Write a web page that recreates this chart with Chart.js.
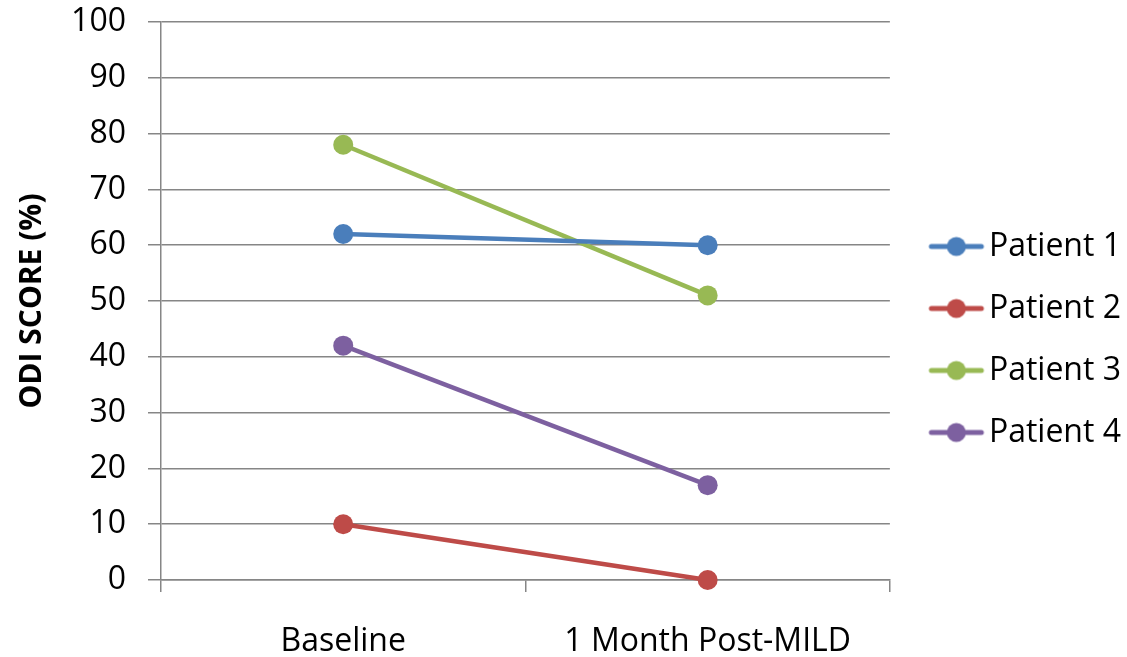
<!DOCTYPE html>
<html>
<head>
<meta charset="utf-8">
<script src="https://cdn.jsdelivr.net/npm/chart.js@4.4.1/dist/chart.umd.min.js"></script>
<style>
    html, body { margin: 0; padding: 0; background: #fff; }
    #wrap { width: 1127px; height: 657px; }
</style>
</head>
<body>
<div id="wrap"><canvas id="odiChart"></canvas></div>
<script>
const categories = ['Baseline', '1 Month Post-MILD'];
const patient1 = [62, 60];
const patient2 = [10, 0];
const patient3 = [78, 51];
const patient4 = [42, 17];
const seriesNames = ['Patient 1', 'Patient 2', 'Patient 3', 'Patient 4'];
const seriesColors = ['#4a7ebb', '#be4b48', '#98b954', '#7d60a0'];
const yMin = 0, yMax = 100, yStep = 10;

// legend marker: short line with a dot, like the Excel legend
// (drawn on the right part of a wider image so the dot sits where Excel puts it)
function makeMarker(color) {
    const c = document.createElement('canvas');
    c.width = 78;
    c.height = 24;
    const g = c.getContext('2d');
    g.strokeStyle = color;
    g.lineWidth = 5;
    g.lineCap = 'round';
    g.beginPath();
    g.moveTo(24, 12);
    g.lineTo(74, 12);
    g.stroke();
    g.fillStyle = color;
    g.beginPath();
    g.arc(49, 12, 9.5, 0, Math.PI * 2);
    g.fill();
    return c;
}
const markers = seriesColors.map(makeMarker);

const allSeries = [patient1, patient2, patient3, patient4];
const gridColor = '#868686';
const fontFamily = 'Open Sans';

document.addEventListener('DOMContentLoaded', () => {
    const ctx = document.getElementById('odiChart').getContext('2d');
    new Chart(ctx, {
        type: 'line',
        data: {
            labels: categories,
            datasets: allSeries.map((vals, i) => ({
                label: seriesNames[i],
                data: vals,
                borderColor: seriesColors[i],
                backgroundColor: seriesColors[i],
                borderWidth: 4.5,
                pointRadius: 10,
                pointHoverRadius: 10,
                pointBorderWidth: 0,
                tension: 0,
                clip: false
            }))
        },
        options: {
            responsive: true,
            maintainAspectRatio: false,
            animation: false,
            layout: {
                padding: { top: 22, left: 14, right: -4, bottom: 0 }
            },
            plugins: {
                tooltip: { enabled: false },
                legend: {
                    position: 'right',
                    labels: {
                        usePointStyle: true,
                        pointStyleWidth: 53,
                        padding: 30,
                        color: '#000',
                        font: { family: fontFamily, size: 32 },
                        generateLabels(chart) {
                            const items = Chart.defaults.plugins.legend.labels.generateLabels(chart);
                            items.forEach((it, i) => { it.pointStyle = markers[i]; });
                            return items;
                        }
                    }
                }
            },
            scales: {
                x: {
                    offset: true,
                    grid: {
                        offset: true,
                        drawOnChartArea: false,
                        drawTicks: true,
                        tickLength: 12,
                        color: gridColor,
                        lineWidth: 1.5
                    },
                    border: { display: true, color: gridColor, width: 1.5 },
                    ticks: {
                        color: '#000',
                        padding: 31,
                        maxRotation: 0,
                        font: { family: fontFamily, size: 32 }
                    },
                    afterFit(scale) {
                        scale.height = 77;
                        scale.paddingLeft = 0;
                        scale.paddingRight = 0;
                    }
                },
                y: {
                    min: yMin,
                    max: yMax,
                    ticks: {
                        stepSize: yStep,
                        color: '#000',
                        padding: 22,
                        font: { family: fontFamily, size: 32 }
                    },
                    grid: {
                        color: gridColor,
                        lineWidth: 1.5,
                        tickLength: 13
                    },
                    border: { display: true, color: gridColor, width: 1.5 },
                    title: {
                        display: true,
                        text: 'ODI SCORE (%)',
                        color: '#000',
                        padding: 0,
                        font: { family: fontFamily, size: 30, weight: 'bold' }
                    },
                    afterFit(scale) {
                        scale.width = 161 - 14;
                        scale.paddingTop = 0;
                        scale.paddingBottom = 0;
                    }
                }
            }
        }
    });
});
</script>
</body>
</html>
